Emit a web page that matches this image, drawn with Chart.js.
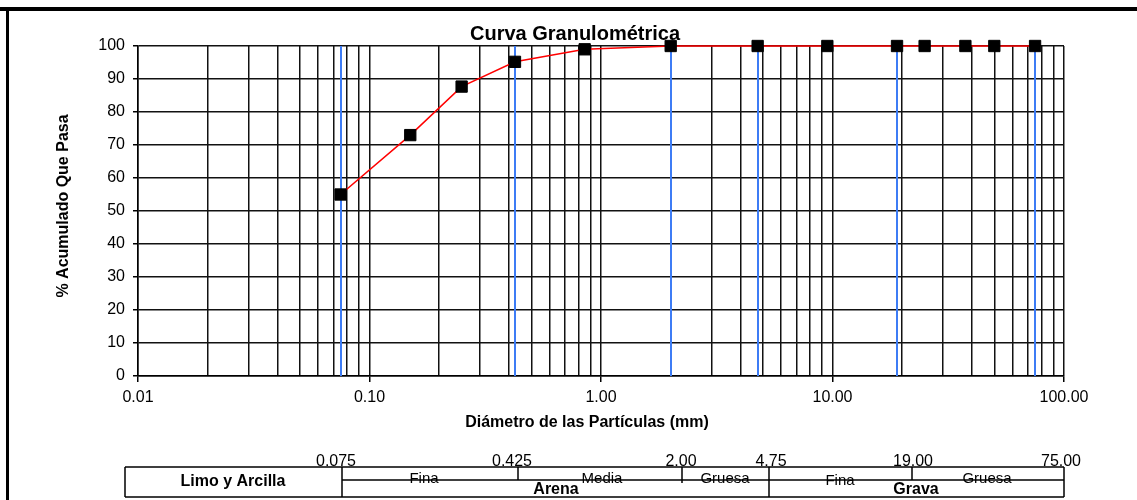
<!DOCTYPE html>
<html>
<head>
<meta charset="utf-8">
<title>Curva Granulométrica</title>
<script src="https://cdn.jsdelivr.net/npm/chart.js@4/dist/chart.umd.min.js"></script>
<style>
  html, body { margin: 0; padding: 0; background: #fff; }
  canvas { display: block; }
</style>
</head>
<body>
<canvas id="c" width="1137" height="500"></canvas>
<script>
// datos del ensayo
var sieveSizes = [0.075, 0.15, 0.25, 0.425, 0.85, 2.0, 4.75, 9.5, 19, 25, 37.5, 50, 75];
var percentPassing = [55, 73, 87.7, 95.2, 99, 100, 100, 100, 100, 100, 100, 100, 100];

// limites de clasificacion (lineas azules)
var limits = [0.075, 0.425, 2.0, 4.75, 19, 75];
var limitLabels = ['0.075', '0.425', '2.00', '4.75', '19.00', '75.00'];

// ejes
var xMajors = [0.01, 0.1, 1, 10, 100];
var xMajorLabels = ['0.01', '0.10', '1.00', '10.00', '100.00'];
var xMinorSteps = [2, 3, 4, 5, 6, 7, 8, 9];
var yTicks = [0, 10, 20, 30, 40, 50, 60, 70, 80, 90, 100];

var FONT = "'Liberation Sans', Arial, sans-serif";

function isMajor(v) {
  var l = Math.log10(v);
  return Math.abs(l - Math.round(l)) < 1e-9;
}
function majorLabel(v) {
  for (var i = 0; i < xMajors.length; i++) {
    if (Math.abs(xMajors[i] - v) < v * 1e-9) return xMajorLabels[i];
  }
  return '';
}

var gridVals = [];
for (var d = 0; d < xMajors.length; d++) {
  gridVals.push(xMajors[d]);
  if (d < xMajors.length - 1) {
    for (var m = 0; m < xMinorSteps.length; m++) gridVals.push(xMajors[d] * xMinorSteps[m]);
  }
}

var points = sieveSizes.map(function (s, i) { return { x: s, y: percentPassing[i] }; });

var bgPlugin = {
  id: 'bg',
  beforeDraw: function (chart) {
    var ctx = chart.ctx;
    ctx.save();
    ctx.fillStyle = '#fff';
    ctx.fillRect(0, 0, chart.width, chart.height);
    ctx.restore();
  }
};

var limitsPlugin = {
  id: 'limits',
  beforeDatasetsDraw: function (chart) {
    var ctx = chart.ctx, xs = chart.scales.x, a = chart.chartArea;
    ctx.save();
    ctx.strokeStyle = '#3d7cf5';
    ctx.lineWidth = 2;
    limits.forEach(function (v) {
      var px = Math.round(xs.getPixelForValue(v));
      ctx.beginPath();
      ctx.moveTo(px, a.top);
      ctx.lineTo(px, a.bottom);
      ctx.stroke();
    });
    ctx.restore();
  }
};

var textPlugin = {
  id: 'texts',
  afterDraw: function (chart) {
    var ctx = chart.ctx;
    ctx.save();
    ctx.fillStyle = '#000';

    // marco
    ctx.fillRect(0, 7, chart.width, 4);
    ctx.fillRect(6, 7, 3, chart.height - 7);

    // titulos
    ctx.textAlign = 'center';
    ctx.textBaseline = 'alphabetic';
    ctx.font = 'bold 20px ' + FONT;
    ctx.fillText('Curva Granulométrica', 575, 40);
    ctx.font = 'bold 16px ' + FONT;
    ctx.fillText('Diámetro de las Partículas (mm)', 587, 427);
    ctx.save();
    ctx.translate(68, 206);
    ctx.rotate(-Math.PI / 2);
    ctx.fillText('% Acumulado Que Pasa', 0, 0);
    ctx.restore();

    // tabla de clasificacion
    var L = 125, R = 1064, T = 467, M = 480, B = 497;
    var cx = [342, 518, 682, 769, 912, 1064];
    ctx.strokeStyle = '#000';
    ctx.lineWidth = 1.5;
    ctx.beginPath();
    ctx.moveTo(L, T); ctx.lineTo(R, T);
    ctx.moveTo(L, B); ctx.lineTo(R, B);
    ctx.moveTo(L, T); ctx.lineTo(L, B);
    ctx.moveTo(R, T); ctx.lineTo(R, B);
    ctx.moveTo(cx[0], T); ctx.lineTo(cx[0], B);
    ctx.moveTo(cx[3], T); ctx.lineTo(cx[3], B);
    ctx.moveTo(cx[1], T); ctx.lineTo(cx[1], M);
    ctx.moveTo(cx[2], T); ctx.lineTo(cx[2], M + 3);
    ctx.moveTo(cx[4], T); ctx.lineTo(cx[4], M);
    ctx.stroke();

    ctx.font = '16px ' + FONT;
    ctx.textBaseline = 'alphabetic';
    var labX = [336, 512, 681, 771, 913, 1061];
    limitLabels.forEach(function (t, i) { ctx.fillText(t, labX[i], 466); });

    ctx.font = '15px ' + FONT;
    ctx.textBaseline = 'middle';
    ctx.fillText('Fina', 424, 479);
    ctx.fillText('Media', 602, 479);
    ctx.fillText('Gruesa', 725, 479);
    ctx.fillText('Fina', 840, 481);
    ctx.fillText('Gruesa', 987, 479);

    ctx.beginPath();
    ctx.moveTo(cx[0], M); ctx.lineTo(R, M);
    ctx.stroke();

    ctx.font = 'bold 16px ' + FONT;
    ctx.fillText('Limo y Arcilla', 233, 482);
    ctx.fillText('Arena', 556, 490);
    ctx.fillText('Grava', 916, 490);
    ctx.restore();
  }
};

new Chart(document.getElementById('c'), {
  type: 'line',
  data: {
    datasets: [{
      data: points,
      borderColor: '#ff0000',
      borderWidth: 1.5,
      pointStyle: 'rect',
      pointRadius: 8,
      pointBackgroundColor: '#000',
      pointBorderColor: '#000',
      pointBorderWidth: 1,
      tension: 0,
      clip: false
    }]
  },
  options: {
    responsive: false,
    animation: false,
    layout: { padding: { top: 46, right: 73, bottom: 0, left: 0 } },
    plugins: {
      legend: { display: false },
      tooltip: { enabled: false },
      title: { display: false }
    },
    scales: {
      x: {
        type: 'logarithmic',
        min: 0.01,
        max: 100,
        afterBuildTicks: function (scale) {
          scale.ticks = gridVals.map(function (v) { return { value: v, major: isMajor(v) }; });
        },
        afterFit: function (scale) { scale.height = 124; },
        ticks: {
          autoSkip: false,
          maxRotation: 0,
          padding: 6,
          color: '#000',
          font: { family: FONT, size: 16 },
          callback: function (v) { return isMajor(v) ? majorLabel(v) : ''; }
        },
        grid: {
          color: '#111',
          lineWidth: 1.5,
          tickLength: 6,
          tickColor: function (c) { return c.tick && isMajor(c.tick.value) ? '#000' : 'rgba(0,0,0,0)'; }
        },
        border: { color: '#000', width: 1.5 }
      },
      y: {
        min: 0,
        max: 100,
        afterBuildTicks: function (scale) {
          scale.ticks = yTicks.map(function (v) { return { value: v }; });
        },
        afterFit: function (scale) { scale.width = 138; },
        ticks: {
          padding: 8,
          color: '#000',
          font: { family: FONT, size: 16 }
        },
        grid: {
          color: '#111',
          lineWidth: 1.5,
          tickLength: 5,
          tickColor: '#000'
        },
        border: { color: '#000', width: 1.5 }
      }
    }
  },
  plugins: [bgPlugin, limitsPlugin, textPlugin]
});
</script>
</body>
</html>
